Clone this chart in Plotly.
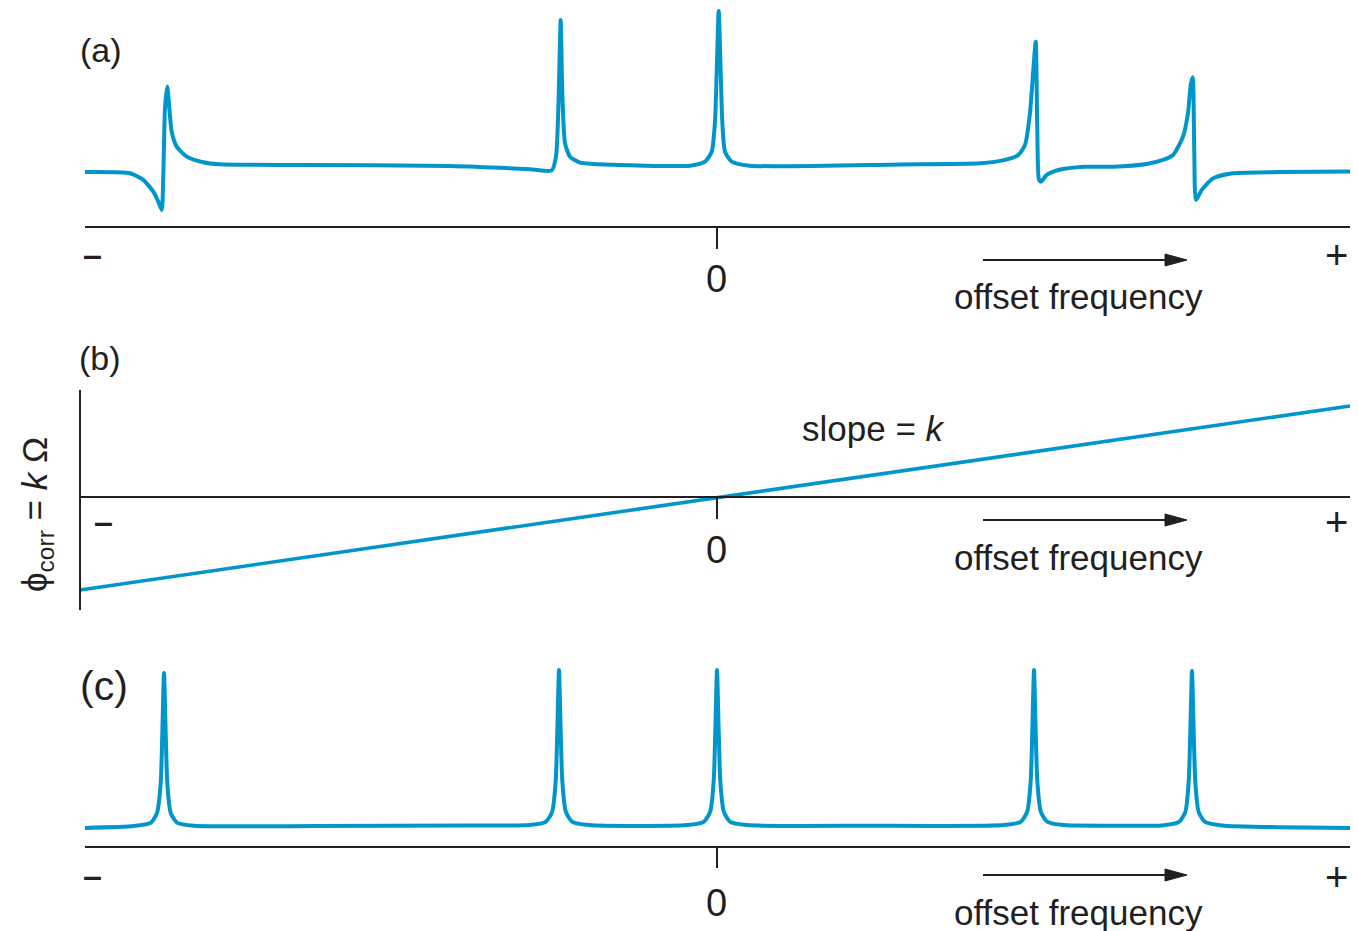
import plotly.graph_objects as go

# -----------------------------
# Data
# offset frequency in Hz, intensity in % of the tallest line,
# correction phase in degrees
# -----------------------------
# (a) spectrum before phase correction
freq_a = [-632, -587, -573.7, -563.7, -558.7, -555.3, -553.7, -552, -549.7, -547.7,
          -545.3, -540.3, -530.3, -513.7, -497.7, -417, -267, -187, -165.3, -161,
          -158.7, -156.3, -154.7, -152, -147, -137, -117.7, -27, -12, -5.3,
          -2, -0.3, 1.7, 3.7, 5.3, 8, 14.7, 32.3, 183, 263,
          288, 301.3, 308, 313, 316.3, 318.7, 320.3, 322, 324, 329.7,
          341.3, 367.3, 396, 429.7, 446, 456, 466, 471, 473.7, 475.7,
          477.3, 479, 484.7, 496.3, 516, 563, 633]
amp_a = [-3.9, -4.7, -9.0, -16.6, -23.0, -28.4, -5.8, 37.4, 51.2, 37.4,
         22.1, 12.5, 6.0, 2.4, 1.1, 0.6, 0.0, -2.1, -2.9, 6.0,
         36.1, 94.2, 47.1, 14.8, 6.0, 2.1, 1.1, 0.2, 2.8, 9.2,
         28.6, 60.8, 100.0, 60.8, 28.6, 9.2, 2.8, 0.2, 1.0, 1.7,
         3.9, 7.1, 13.5, 34.2, 61.9, 80.2, 23.2, -9.0, -10.1, -5.8,
         -2.6, -0.5, -0.5, 1.3, 3.9, 7.1, 18.9, 34.2, 52.3, 57.2,
         8.4, -21.9, -15.5, -7.9, -4.7, -3.9, -3.5]

# (b) linear phase correction
freq_b = [-637, 633]
phase_b = [-92, 90]

# (c) spectrum after phase correction
freq_c = [-632, -583, -566, -560, -556.3, -554.7, -553, -551.3, -549.7, -546.3,
          -540, -523, -400, -250, -188, -171, -164.7, -161.3, -159.7, -158,
          -156.3, -154.7, -151.3, -145, -128, -30, -13, -6.7, -3.3, -1.7,
          0, 1.7, 3.3, 6.7, 13, 30, 150, 287, 304, 310.3,
          313.7, 315.3, 317, 318.7, 320.3, 323.7, 330, 347, 400, 445,
          462, 468.3, 471.7, 473.3, 475, 476.7, 478.3, 481.7, 488, 505,
          633]
amp_c = [-0.6, 0.6, 2.8, 9, 28, 60, 98.7, 60, 28, 9,
         2.8, 0.8, 0.6, 1.0, 1.2, 3.5, 10, 29.5, 61.5, 100.6,
         61.5, 29.5, 10, 3.5, 1.2, 1.2, 3.5, 10, 29.5, 61.5,
         100.6, 61.5, 29.5, 10, 3.5, 1.2, 0.8, 1.2, 3.5, 10,
         29.5, 61.5, 100.6, 61.5, 29.5, 10, 3.5, 1.2, 0.8, 1.0,
         3.3, 9.5, 29, 61, 100, 61, 29, 9.5, 3.3, 1.0,
         -0.6]

panel_labels = ["(a)", "(b)", "(c)"]
end_labels = ["<b>\u2013</b>", "0", "+"]
axis_title = "offset frequency"
slope_text = "slope = <i>k</i>"
phase_title = "\u03d5<sub>corr</sub> = <i>k</i> \u03a9"

# -----------------------------
# Styling
# -----------------------------
# the page body keeps an 8 px margin, so the figure is drawn 8 px in
OFF = 8
W, H = 1358 - OFF, 931 - OFF
BLUE = "#0096cc"
INK = "#231f20"
FONT = "Liberation Sans, Arial, Helvetica, sans-serif"


def px(x, y):
    # screen pixel position -> paper coordinates
    return (x - OFF) / W, 1 - (y - OFF) / H


fig = go.Figure()
line = dict(color=BLUE, width=4, shape="spline", smoothing=0.6)
fig.add_trace(go.Scatter(x=freq_a, y=amp_a, mode="lines", line=line, yaxis="y"))
fig.add_trace(go.Scatter(x=freq_b, y=phase_b, mode="lines",
                         line=dict(color=BLUE, width=3.6), yaxis="y2"))
fig.add_trace(go.Scatter(x=freq_c, y=amp_c, mode="lines", line=line, yaxis="y3"))

# baselines, zero ticks and the phase axis
shapes = []
def seg(x0, y0, x1, y1, yref, width=2):
    shapes.append(dict(type="line", xref="x", yref=yref, x0=x0, y0=y0, x1=x1, y1=y1,
                       line=dict(color=INK, width=width)))

seg(-632, -39.4, 633, -39.4, "y")
seg(0, -39.4, 0, -53.5, "y")
seg(-637, 0, 633, 0, "y2")
seg(-637, 105.8, -637, -111.8, "y2")
seg(0, 0, 0, -21.8, "y2")
seg(-632, -12.8, 633, -12.8, "y3")
seg(0, -12.8, 0, -26.3, "y3")


def arrow(x0, x1, y, head=22, half=6):
    # shaft plus a filled triangular head, in screen pixels
    a, b = px(x0, y)
    c, _ = px(x1 - head + 2, y)
    shapes.append(dict(type="line", xref="paper", yref="paper", x0=a, y0=b, x1=c, y1=b,
                       line=dict(color=INK, width=2)))
    p1 = px(x1, y)
    p2 = px(x1 - head, y - half)
    p3 = px(x1 - head, y + half)
    path = "M {} {} L {} {} L {} {} Z".format(p1[0], p1[1], p2[0], p2[1], p3[0], p3[1])
    shapes.append(dict(type="path", xref="paper", yref="paper", path=path,
                       fillcolor=INK, line=dict(color=INK, width=1)))


annotations = []
def text(s, x, y, size, **kw):
    ax_, ay_ = px(x, y)
    annotations.append(dict(text=s, x=ax_, y=ay_, xref="paper", yref="paper",
                            showarrow=False, font=dict(size=size, color=INK, family=FONT),
                            xanchor="center", yanchor="middle", **kw))

# panel labels
text(panel_labels[0], 101, 50, 34)
text(panel_labels[1], 100, 358, 34)
text(panel_labels[2], 104, 686, 41)

# axis end labels and titles for each panel
rows = [(254, 279, 255, 260, 296, 92), (521, 550, 522, 520, 557, 103), (875, 903, 877, 875, 912, 92)]
for minus_y, zero_y, plus_y, arr_y, title_y, minus_x in rows:
    text(end_labels[0], minus_x, minus_y, 34)
    text(end_labels[1], 716, zero_y, 38)
    text(end_labels[2], 1336, plus_y, 40)
    arrow(983, 1187, arr_y)
    text(axis_title, 1078, title_y, 35)

text(slope_text, 873, 428, 35)
text(phase_title, 37, 515, 35, textangle=-90)

hidden = dict(visible=False, fixedrange=True)
fig.update_layout(
    width=W, height=H,
    margin=dict(l=0, r=0, t=0, b=0),
    paper_bgcolor="white", plot_bgcolor="white",
    showlegend=False,
    xaxis=dict(range=[OFF - 717, 641], **hidden),
    yaxis=dict(domain=[1 - 312 / H, 1], range=[-99.35, 101.9], **hidden),
    yaxis2=dict(domain=[1 - 622 / H, 1 - 362 / H], range=[-131.6, 125.6], **hidden),
    yaxis3=dict(domain=[0, 1 - 632 / H], range=[-66.7, 119.9], **hidden),
    shapes=shapes,
    annotations=annotations,
)

fig.write_html("out.html")
